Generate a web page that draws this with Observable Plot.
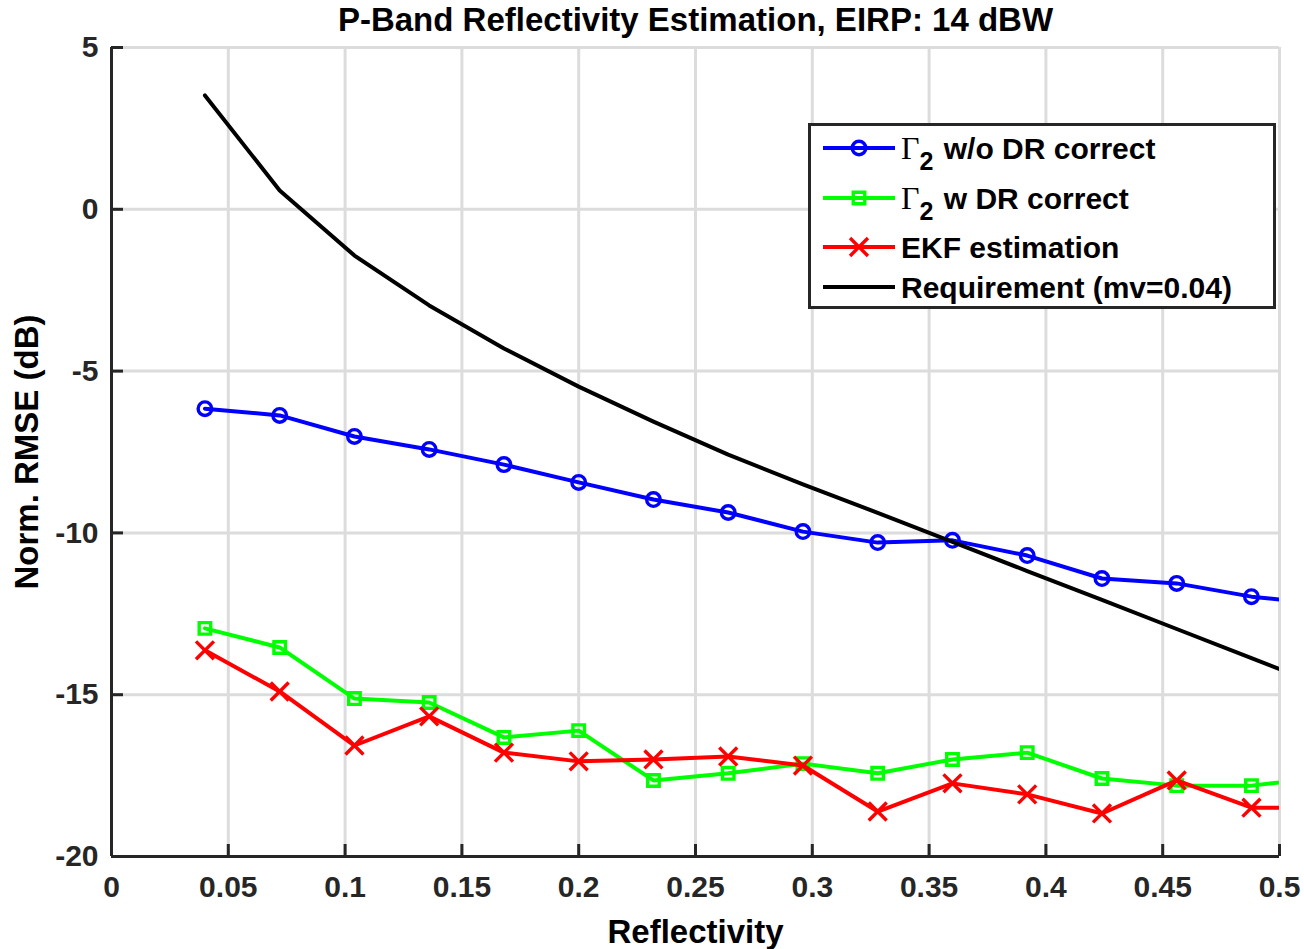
<!DOCTYPE html>
<html><head><meta charset="utf-8">
<script src="https://cdn.jsdelivr.net/npm/d3@7"></script>
<script src="https://cdn.jsdelivr.net/npm/@observablehq/plot@0.6"></script>
<style>
html,body{margin:0;padding:0;background:#fff;}
#wrap{position:relative;width:1304px;height:949px;overflow:hidden;}
#wrap svg{position:absolute;left:0;top:0;}
</style></head><body><div id="wrap"></div>
<script>
// ---- data ----
const reflectivity = [0.04,0.072,0.104,0.136,0.168,0.2,0.232,0.264,0.296,0.328,0.36,0.392,0.424,0.456,0.488,0.52];
const gammaNoCorrect = [-6.16,-6.37,-7.02,-7.42,-7.89,-8.44,-8.97,-9.37,-9.96,-10.30,-10.23,-10.70,-11.41,-11.56,-11.97,-12.2];
const gammaCorrect   = [-12.95,-13.54,-15.12,-15.24,-16.32,-16.11,-17.65,-17.43,-17.13,-17.43,-17.00,-16.79,-17.59,-17.81,-17.81,-17.54];
const ekfEstimation  = [-13.63,-14.90,-16.57,-15.67,-16.79,-17.06,-17.00,-16.91,-17.19,-18.61,-17.74,-18.08,-18.67,-17.65,-18.49,-18.49];
const requirement    = [3.52,0.58,-1.43,-2.97,-4.30,-5.48,-6.56,-7.58,-8.50,-9.38,-10.28,-11.18,-12.07,-12.97,-13.87,-14.77];
const seriesNames = ["Γ2 w/o DR correct","Γ2 w DR correct","EKF estimation","Requirement (mv=0.04)"];
const seriesColors = ["#0000ff","#00ff00","#ff0000","#000000"];
const seriesSymbols = ["circle","square","times",null];
const xTicks = [0,0.05,0.1,0.15,0.2,0.25,0.3,0.35,0.4,0.45,0.5];
const yTicks = [-20,-15,-10,-5,0,5];
const titleText = "P-Band Reflectivity Estimation, EIRP: 14 dBW";
const xLabel = "Reflectivity";
const yLabel = "Norm. RMSE (dB)";

const allValues = [gammaNoCorrect, gammaCorrect, ekfEstimation, requirement];
const FONT = "'Liberation Sans', Arial, Helvetica, sans-serif";
const AX = "#262626";
const symR = {circle: 6.8, square: 6.5, times: 8.2};

const marks = [
  Plot.gridX(xTicks, {stroke:"#dcdcdc", strokeOpacity:1, strokeWidth:3}),
  Plot.gridY(yTicks, {stroke:"#dcdcdc", strokeOpacity:1, strokeWidth:3}),
];
allValues.forEach((vals, k) => {
  const data = reflectivity.map((x, i) => ({x, y: vals[i]}));
  marks.push(Plot.line(data, {x:"x", y:"y", stroke: seriesColors[k], strokeWidth: 4, clip: true}));
  if (seriesSymbols[k]) {
    marks.push(Plot.dot(data, {x:"x", y:"y", symbol: seriesSymbols[k], r: symR[seriesSymbols[k]], stroke: seriesColors[k], strokeWidth: 3.4, fill: "none", clip: true}));
  }
});
marks.push(
  Plot.ruleX([0], {stroke: AX, strokeWidth: 3}),
  Plot.ruleY([-20], {stroke: AX, strokeWidth: 3}),
  Plot.axisX(xTicks, {tickSize: -12, tickPadding: 31, stroke: AX, strokeWidth: 3, fill: AX, fontSize: 30, fontWeight: "bold", tickFormat: d => String(d), label: null}),
  Plot.axisY(yTicks, {tickSize: -12, tickPadding: 25, stroke: AX, strokeWidth: 3, fill: AX, fontSize: 30, fontWeight: "bold", tickFormat: d => String(d), label: null}),
  Plot.text([titleText], {text: d => d, frameAnchor: "top", dy: -27, fontSize: 33, fontWeight: "bold", fill: "#000", lineAnchor: "middle"}),
  Plot.text([xLabel], {text: d => d, frameAnchor: "bottom", dy: 76, fontSize: 33, fontWeight: "bold", fill: "#000", lineAnchor: "middle"}),
  Plot.text([yLabel], {text: d => d, frameAnchor: "left", dx: -84, rotate: -90, textAnchor: "middle", fontSize: 33, fontWeight: "bold", fill: "#000", lineAnchor: "middle"})
);

const chart = Plot.plot({
  width: 1304, height: 949,
  marginLeft: 111, marginRight: 25, marginTop: 47, marginBottom: 93,
  x: {domain: [0, 0.5]},
  y: {domain: [-20, 5]},
  style: {fontFamily: FONT, background: "#fff", overflow: "visible"},
  marks
});
document.getElementById("wrap").appendChild(chart);

// ---- legend ----
const lg = d3.select("#wrap").append("svg")
  .attr("width", 1304).attr("height", 949)
  .style("pointer-events", "none")
  .style("font-family", FONT);
lg.append("rect").attr("x", 809.5).attr("y", 124.5).attr("width", 465).attr("height", 183)
  .attr("fill", "#fff").attr("stroke", AX).attr("stroke-width", 3);
const rowY = [148, 198, 247, 287];
seriesNames.forEach((name, k) => {
  const y = rowY[k];
  lg.append("line").attr("x1", 823).attr("x2", 895).attr("y1", y).attr("y2", y)
    .attr("stroke", seriesColors[k]).attr("stroke-width", 4);
  if (seriesSymbols[k]) {
    const sym = {circle: d3.symbolCircle, square: d3.symbolSquare, times: d3.symbolTimes}[seriesSymbols[k]];
    const r = symR[seriesSymbols[k]];
    lg.append("path").attr("transform", `translate(859,${y})`)
      .attr("d", d3.symbol(sym, r * r * Math.PI)())
      .attr("fill", "none").attr("stroke", seriesColors[k]).attr("stroke-width", 3.4);
  }
  const t = lg.append("text").attr("x", 901).attr("y", y + 10.5)
    .attr("font-size", 30).attr("font-weight", "bold").attr("fill", "#000");
  if (name.startsWith("Γ2")) {
    t.append("tspan").attr("font-family", "'Liberation Serif', 'Times New Roman', serif").attr("font-weight", "normal").attr("font-size", 32).text("Γ");
    t.append("tspan").attr("dy", 11).attr("font-size", 25).text("2");
    t.append("tspan").attr("dy", -11).attr("dx", 2).text(name.slice(2));
  } else {
    t.text(name);
  }
});
</script></body></html>
